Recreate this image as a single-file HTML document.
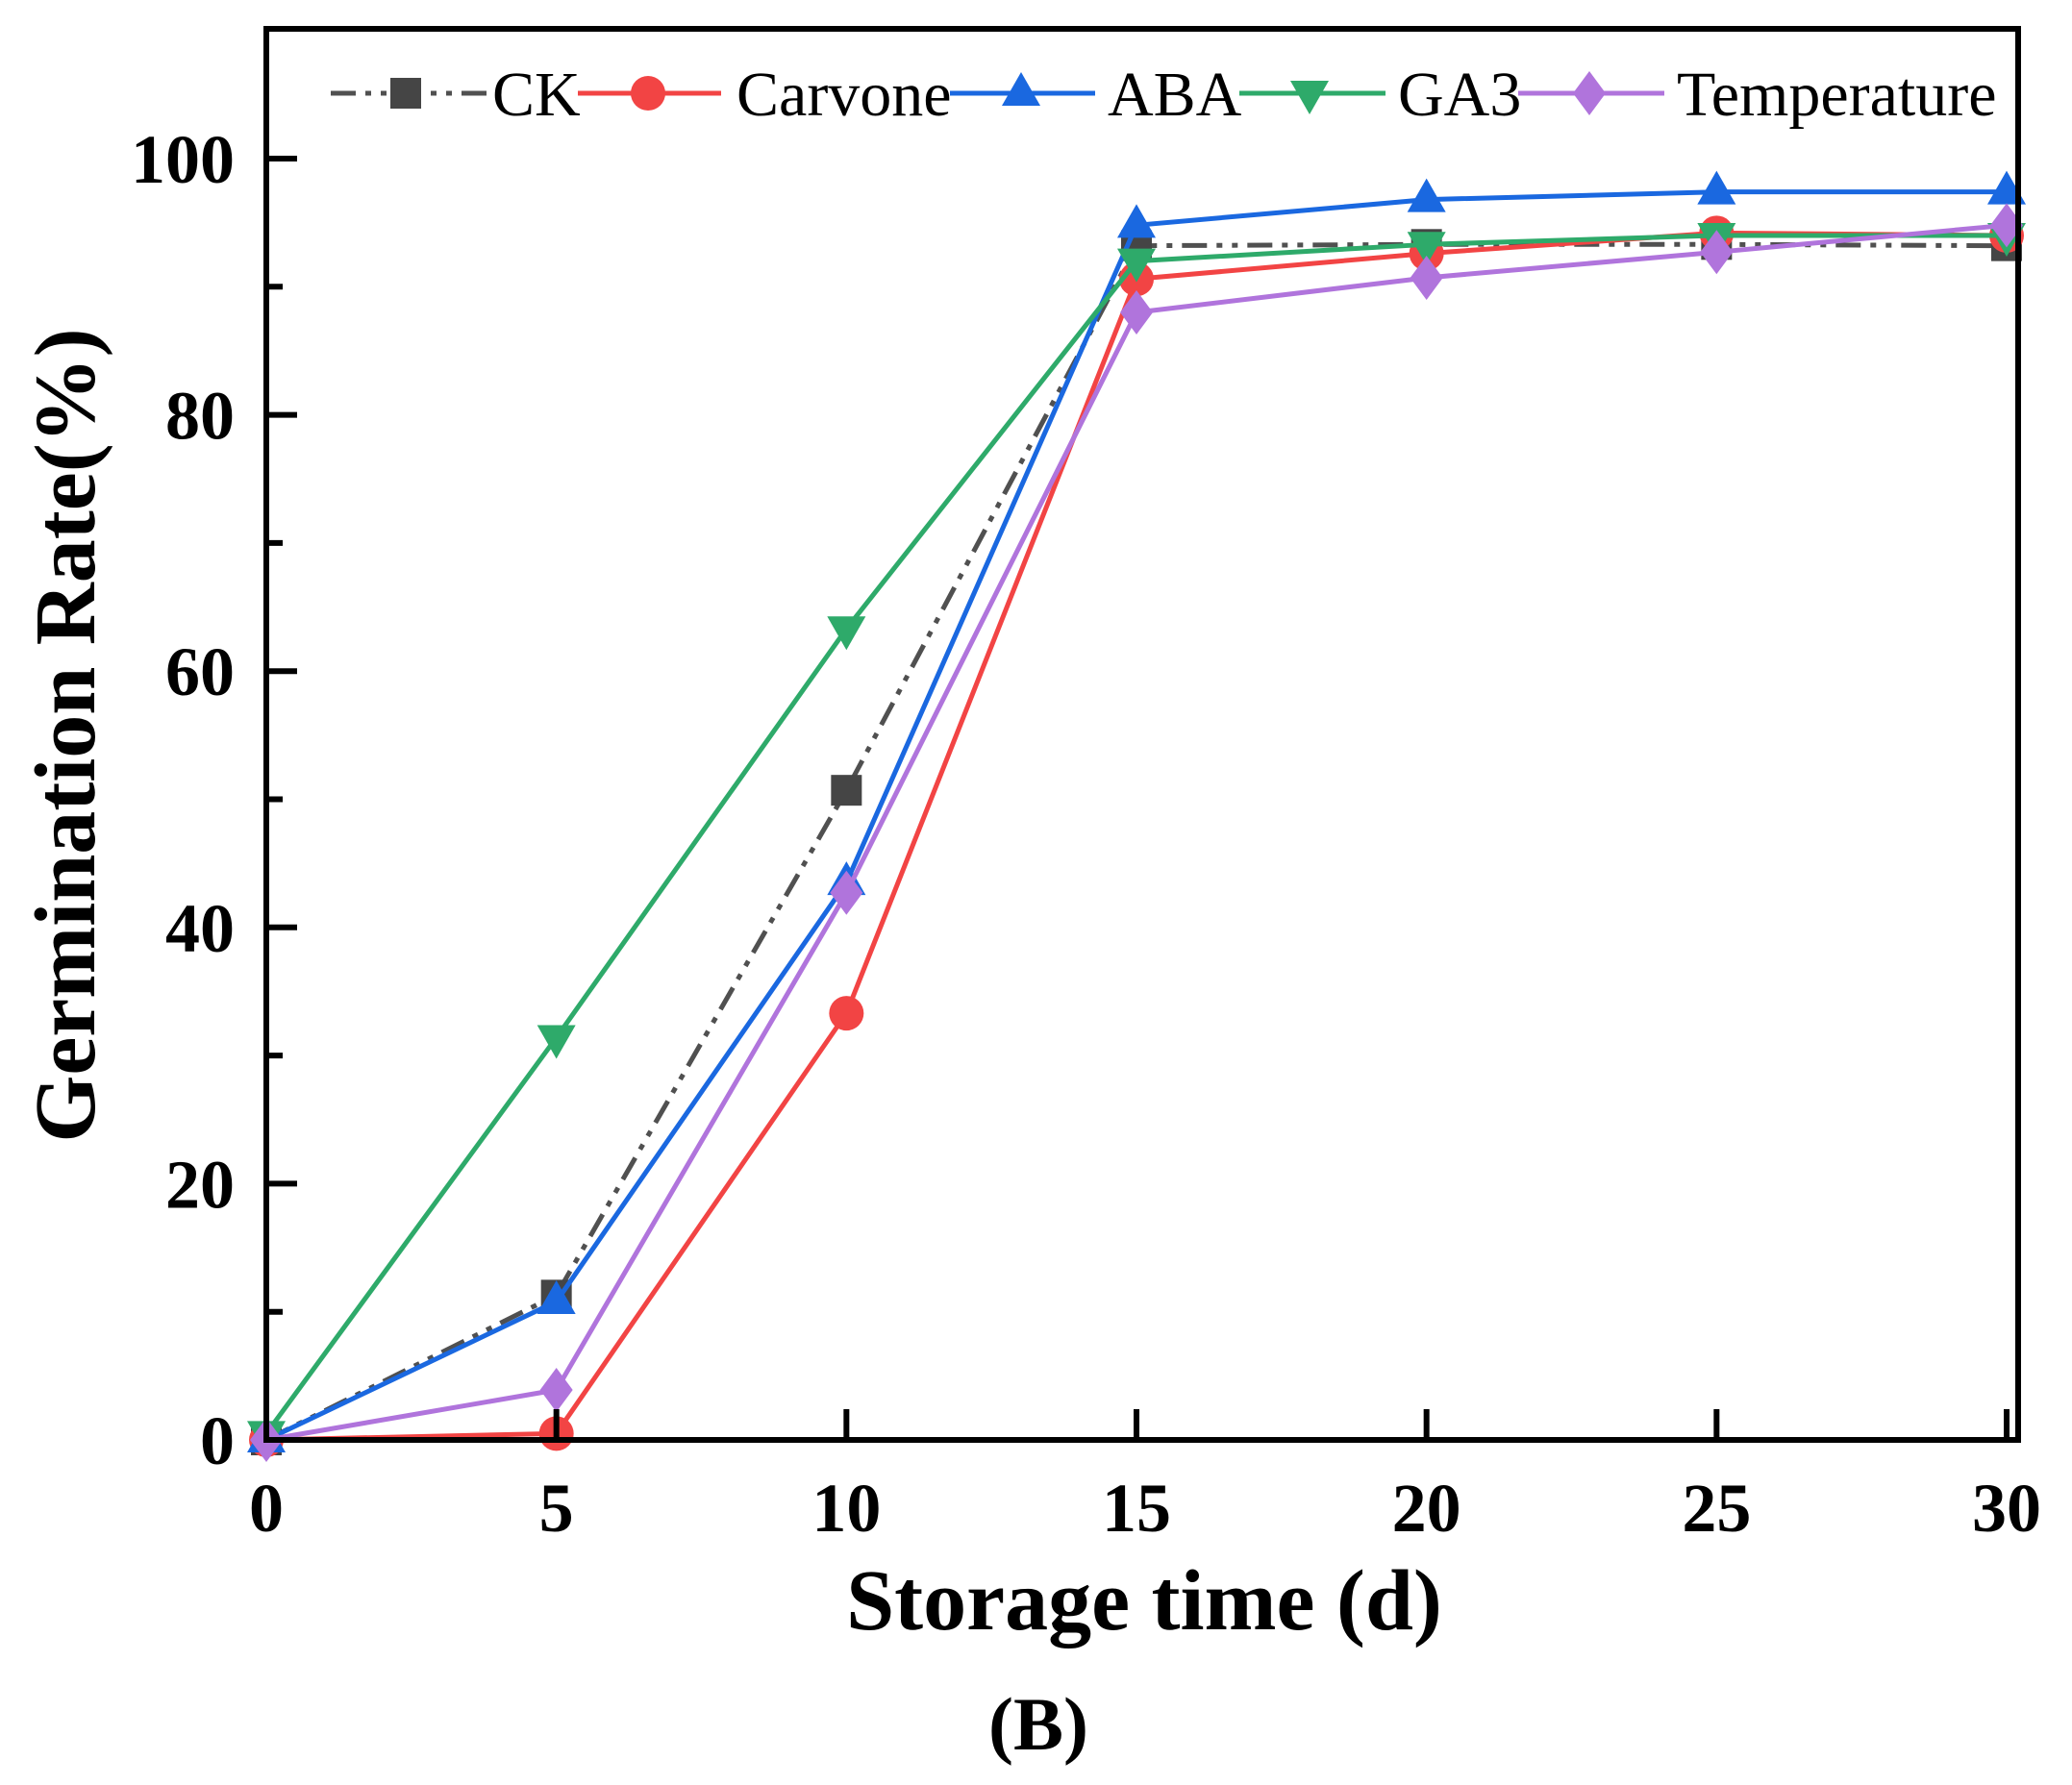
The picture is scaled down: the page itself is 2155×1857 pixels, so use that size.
<!DOCTYPE html>
<html><head><meta charset="utf-8"><style>
html,body{margin:0;padding:0;background:#fff;}
svg{display:block;}
</style></head><body>
<svg id="chart" width="2155" height="1857" viewBox="0 0 2155 1857" xmlns="http://www.w3.org/2000/svg">
<g id="series"></g>
<g id="axes"></g>
<g id="legend"></g>
</svg>
<script>
const xValues = [0, 5, 10, 15, 20, 25, 30];
const ckValues = [0, 11.3, 50.7, 93.2, 93.3, 93.3, 93.2];
const carvoneValues = [0, 0.5, 33.3, 90.6, 92.6, 94.2, 94.0];
const abaValues = [0, 10.8, 43.5, 94.8, 96.8, 97.4, 97.4];
const ga3Values = [0.5, 31.4, 63.3, 92.0, 93.3, 94.0, 94.0];
const tempValues = [0, 3.9, 42.7, 88.0, 90.7, 92.7, 94.8];
const xTicks = [0, 5, 10, 15, 20, 25, 30];
const yTicks = [0, 20, 40, 60, 80, 100];
const yMinorTicks = [10, 30, 50, 70, 90];
const seriesNames = ["CK", "Carvone", "ABA", "GA3", "Temperature"];

const NS = "http://www.w3.org/2000/svg";
const L = 277, R = 2099, T = 30, B = 1498;
const x0px = 277, x30px = 2087;
const y0px = 1498, y100px = 165;
function xs(v){ return x0px + (x30px - x0px) * v / 30; }
function ys(v){ return y0px - (y0px - y100px) * v / 100; }
function mk(tag, attrs, parent){
  const e = document.createElementNS(NS, tag);
  for (const k in attrs) e.setAttribute(k, attrs[k]);
  parent.appendChild(e);
  return e;
}
const gS = document.getElementById('series');
const gA = document.getElementById('axes');
const gL = document.getElementById('legend');

const styles = [
  {vals: ckValues, color: "#505050", mcolor: "#454545", shape: "square", dash: "26 10 6 10 6 10", key: "ck"},
  {vals: carvoneValues, color: "#f24444", mcolor: "#f24444", shape: "circle", dash: "", key: "carvone"},
  {vals: abaValues, color: "#1a68e0", mcolor: "#1a68e0", shape: "up", dash: "", key: "aba"},
  {vals: ga3Values, color: "#2eaa6a", mcolor: "#2eaa6a", shape: "down", dash: "", key: "ga3"},
  {vals: tempValues, color: "#b074dc", mcolor: "#b074dc", shape: "diamond", dash: "", key: "temperature"}
];

function marker(shape, cx, cy, color, parent){
  let e;
  if (shape === "square") e = mk('rect', {x: cx - 16, y: cy - 16, width: 32, height: 32, fill: color}, parent);
  else if (shape === "circle") e = mk('circle', {cx: cx, cy: cy, r: 18, fill: color}, parent);
  else if (shape === "up") e = mk('polygon', {points: `${cx},${cy-22} ${cx+20},${cy+13} ${cx-20},${cy+13}`, fill: color}, parent);
  else if (shape === "down") e = mk('polygon', {points: `${cx-20},${cy-13} ${cx+20},${cy-13} ${cx},${cy+22}`, fill: color}, parent);
  else e = mk('polygon', {points: `${cx},${cy-23} ${cx+17},${cy} ${cx},${cy+23} ${cx-17},${cy}`, fill: color}, parent);
  return e;
}

styles.forEach((st, si) => {
  const g = mk('g', {}, gS);
  
  
  const pts = st.vals.map((v, i) => xs(xValues[i]) + ',' + ys(v)).join(' ');
  const line = mk('polyline', {points: pts, fill: 'none', stroke: st.color, 'stroke-width': 5, 'stroke-linejoin': 'round'}, g);
  if (st.dash) line.setAttribute('stroke-dasharray', st.dash);
  
  
  st.vals.forEach((v, i) => {
    const m = marker(st.shape, xs(xValues[i]), ys(v), st.mcolor, g);
    
    
  });
});

const frame = mk('rect', {x: L, y: T, width: R - L, height: B - T, fill: 'none', stroke: '#000', 'stroke-width': 6}, gA);



xTicks.forEach(v => {
  const t = mk('line', {x1: xs(v), x2: xs(v), y1: B, y2: B - 32, stroke: '#000', 'stroke-width': 6}, gA);
  
  
  const lb = mk('text', {x: xs(v), y: 1593, 'text-anchor': 'middle', 'font-family': '"Liberation Serif", serif', 'font-weight': 'bold', 'font-size': 72}, gA);
  lb.textContent = v;
  
  
});
yTicks.forEach(v => {
  const t = mk('line', {x1: L, x2: L + 32, y1: ys(v), y2: ys(v), stroke: '#000', 'stroke-width': 6}, gA);
  
  
  const lb = mk('text', {x: 244, y: ys(v) + 25, 'text-anchor': 'end', 'font-family': '"Liberation Serif", serif', 'font-weight': 'bold', 'font-size': 72}, gA);
  lb.textContent = v;
  
  
});
yMinorTicks.forEach(v => {
  const t = mk('line', {x1: L, x2: L + 17, y1: ys(v), y2: ys(v), stroke: '#000', 'stroke-width': 6}, gA);
  
  
});

const xt = mk('text', {x: 1190, y: 1695, 'text-anchor': 'middle', 'font-family': '"Liberation Serif", serif', 'font-weight': 'bold', 'font-size': 90}, gA);
xt.textContent = 'Storage time (d)';


const yt = mk('text', {x: 0, y: 0, 'text-anchor': 'middle', transform: 'translate(98,765) rotate(-90)', 'font-family': '"Liberation Serif", serif', 'font-weight': 'bold', 'font-size': 90}, gA);
yt.textContent = 'Germination Rate(%)';


const cap = mk('text', {x: 1080, y: 1820, 'text-anchor': 'middle', 'font-family': '"Liberation Serif", serif', 'font-weight': 'bold', 'font-size': 78}, gA);
cap.textContent = '(B)';



const legX = [[344, 508, 422, 512], [601, 750, 674, 766], [988, 1139, 1062, 1152], [1289, 1441, 1362, 1454], [1579, 1731, 1653, 1744]];
const legY = 97;
styles.forEach((st, i) => {
  const g = mk('g', {}, gL);
  
  
  const [a, b, m, tx] = legX[i];
  const ln = mk('line', {x1: a, x2: b, y1: legY, y2: legY, stroke: st.color, 'stroke-width': 5}, g);
  if (st.dash) ln.setAttribute('stroke-dasharray', st.dash);
  marker(st.shape, m, legY, st.mcolor, g);
  const t = mk('text', {x: tx, y: legY + 23, 'font-family': '"Liberation Serif", serif', 'font-size': 66}, g);
  t.textContent = seriesNames[i];
});
</script>
</body></html>
